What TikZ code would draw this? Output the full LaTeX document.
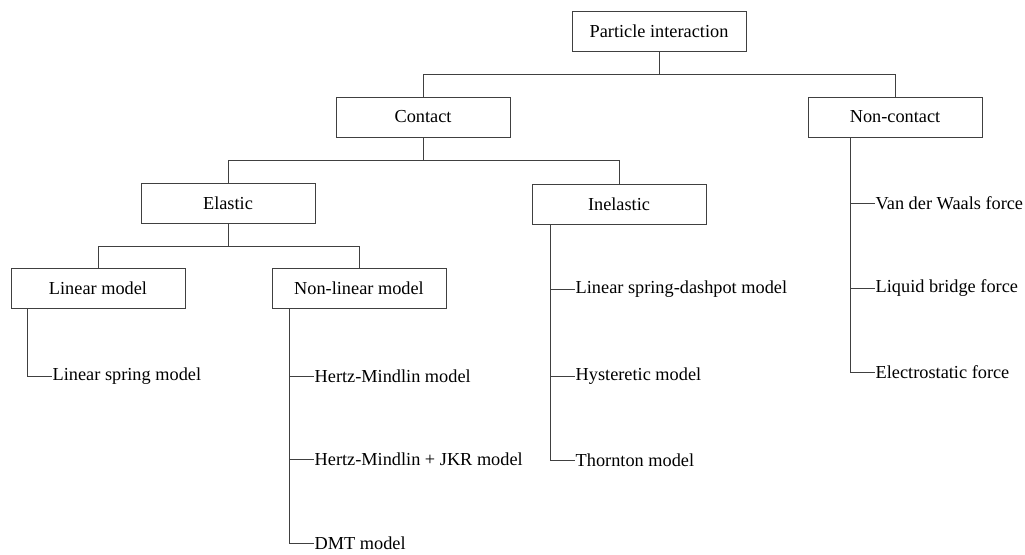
\documentclass[tikz,border=0pt]{standalone}
\usepackage{fontspec}
\setmainfont{Liberation Serif}
\begin{document}
\begin{tikzpicture}[x=1pt,y=-1pt,
  box/.style={draw=black!75,line width=0.8pt,minimum width=174pt,minimum height=40pt,inner sep=2pt},
  leaf/.style={anchor=west,inner sep=0.5pt},
  link/.style={line width=0.8pt,black!75},
  font=\fontsize{18.3}{22}\selectfont]

\useasboundingbox (0,0) rectangle (1025,554);

% the boxes
\node[box] (part) at (659,31) {Particle interaction};
\node[box] (cont) at (423,117) {Contact};
\node[box] (ncont) at (895,117) {Non-contact};
\node[box] (elas) at (228,203) {Elastic};
\node[box] (inel) at (619,204) {Inelastic};
\node[box] (lin) at (98,288) {Linear model};
\node[box] (nlin) at (359,288) {Non-linear model};

% tree links between the boxes
\draw[link] (part.south) -- ++(0,23) -| (cont.north);
\draw[link] (part.south) -- ++(0,23) -| (ncont.north);
\draw[link] (cont.south) -- ++(0,23) -| (elas.north);
\draw[link] (cont.south) -- ++(0,23) -| (inel.north);
\draw[link] (elas.south) -- ++(0,23) -| (lin.north);
\draw[link] (elas.south) -- ++(0,23) -| (nlin.north);

% leaves of the linear model
\node[leaf] (lin-1) at (52,376) {Linear spring model};
\draw[link] (lin.south -| 27,0) |- (lin-1.west);

% leaves of the non-linear model
\foreach \i/\y/\txt in {1/376/Hertz-Mindlin model, 2/459/Hertz-Mindlin + JKR model, 3/543/DMT model}
{
  \node[leaf] (nlin-\i) at (314,\y) {\txt};
  \draw[link] (nlin.south -| 289,0) |- (nlin-\i.west);
}

% leaves of the inelastic box
\foreach \i/\y/\txt in {1/289/Linear spring-dashpot model, 2/376/Hysteretic model, 3/460/Thornton model}
{
  \node[leaf] (inel-\i) at (575,\y) {\txt};
  \draw[link] (inel.south -| 550,0) |- (inel-\i.west);
}

% leaves of the non-contact box
\foreach \i/\y/\txt in {1/203/Van der Waals force, 2/288/Liquid bridge force, 3/372/Electrostatic force}
{
  \node[leaf] (ncont-\i) at (875,\y) {\txt};
  \draw[link] (ncont.south -| 850,0) |- (ncont-\i.west);
}
\end{tikzpicture}
\end{document}
